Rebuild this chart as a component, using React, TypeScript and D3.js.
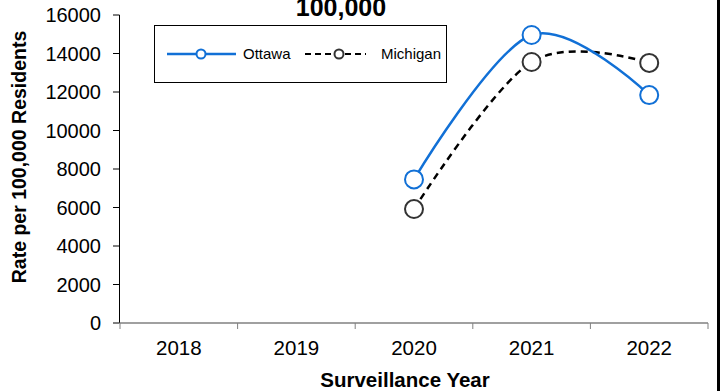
import * as d3 from 'd3';

const years = ['2018', '2019', '2020', '2021', '2022'];
const ottawa: Array<[string, number]> = [
  ['2020', 7460],
  ['2021', 14960],
  ['2022', 11840],
];
const michigan: Array<[string, number]> = [
  ['2020', 5920],
  ['2021', 13560],
  ['2022', 13510],
];
const yTicks = [0, 2000, 4000, 6000, 8000, 10000, 12000, 14000, 16000];

const width = 722;
const height = 391;
const font = '"Liberation Sans", Arial, sans-serif';
const blue = '#1170d6';
const dark = '#333333';

export default function App(): JSX.Element {
  const x = d3.scaleBand<string>().domain(years).range([120, 708]);
  const y = d3.scaleLinear().domain([0, 16000]).range([323, 15]);
  const cx = (d: string) => (x(d) ?? 0) + x.bandwidth() / 2;

  const line = d3
    .line<[string, number]>()
    .x((d) => cx(d[0]))
    .y((d) => y(d[1]))
    .curve(d3.curveCardinal.tension(0));

  return (
    <svg
      width={width}
      height={height}
      style={{ position: 'absolute', left: 0, top: 0, background: '#fff' }}
      fontFamily={font}
    >
      <rect x={0} y={0} width={width} height={height} fill="#fff" />
      <text x={341} y={16} textAnchor="middle" fontSize={25} fontWeight="bold">
        100,000
      </text>

      {/* y axis */}
      <line x1={119.5} x2={119.5} y1={y(16000)} y2={y(0)} stroke="#000" strokeWidth={1} />
      {yTicks.map((t) => (
        <g key={t}>
          <line x1={113} x2={119.5} y1={y(t)} y2={y(t)} stroke="#000" />
          <text x={101} y={y(t)} dy="0.35em" textAnchor="end" fontSize={20}>
            {t}
          </text>
        </g>
      ))}
      <text
        transform={`translate(26,157) rotate(-90)`}
        textAnchor="middle"
        fontSize={19.5}
        fontWeight="bold"
      >
        Rate per 100,000 Residents
      </text>

      {/* x axis */}
      <line x1={119.5} x2={708} y1={y(0)} y2={y(0)} stroke="#808080" strokeWidth={1.5} />
      {[...years.map((d) => x(d) ?? 0), 708].map((v, i) => (
        <line key={i} x1={v} x2={v} y1={y(0)} y2={y(0) + 6} stroke="#808080" />
      ))}
      {years.map((d) => (
        <text key={d} x={cx(d)} y={355} textAnchor="middle" fontSize={20.5}>
          {d}
        </text>
      ))}
      <text x={405} y={387} textAnchor="middle" fontSize={20.5} fontWeight="bold">
        Surveillance Year
      </text>

      {/* series */}
      <path d={line(michigan) ?? ''} fill="none" stroke="#000" strokeWidth={2.5} strokeDasharray="7,5" />
      <path d={line(ottawa) ?? ''} fill="none" stroke={blue} strokeWidth={2.5} />
      {michigan.map((d) => (
        <circle key={d[0]} cx={cx(d[0])} cy={y(d[1])} r={9} fill="#fff" stroke={dark} strokeWidth={2} />
      ))}
      {ottawa.map((d) => (
        <circle key={d[0]} cx={cx(d[0])} cy={y(d[1])} r={9} fill="#fff" stroke={blue} strokeWidth={2} />
      ))}

      {/* legend */}
      <rect x={154.5} y={25.5} width={292} height={57} fill="#fff" stroke="#000" strokeWidth={1} />
      <line x1={167} x2={236} y1={54} y2={54} stroke={blue} strokeWidth={2.5} />
      <circle cx={201} cy={54} r={4.5} fill="#fff" stroke={blue} strokeWidth={2} />
      <text x={243} y={54} dy="0.35em" fontSize={15}>
        Ottawa
      </text>
      <line x1={305} x2={366} y1={54} y2={54} stroke="#000" strokeWidth={2} strokeDasharray="6,4" />
      <circle cx={339} cy={54} r={4.5} fill="#fff" stroke={dark} strokeWidth={2} />
      <text x={381} y={54} dy="0.35em" fontSize={15}>
        Michigan
      </text>

      <rect x={717} y={0} width={3} height={height} fill="#000" />
    </svg>
  );
}
